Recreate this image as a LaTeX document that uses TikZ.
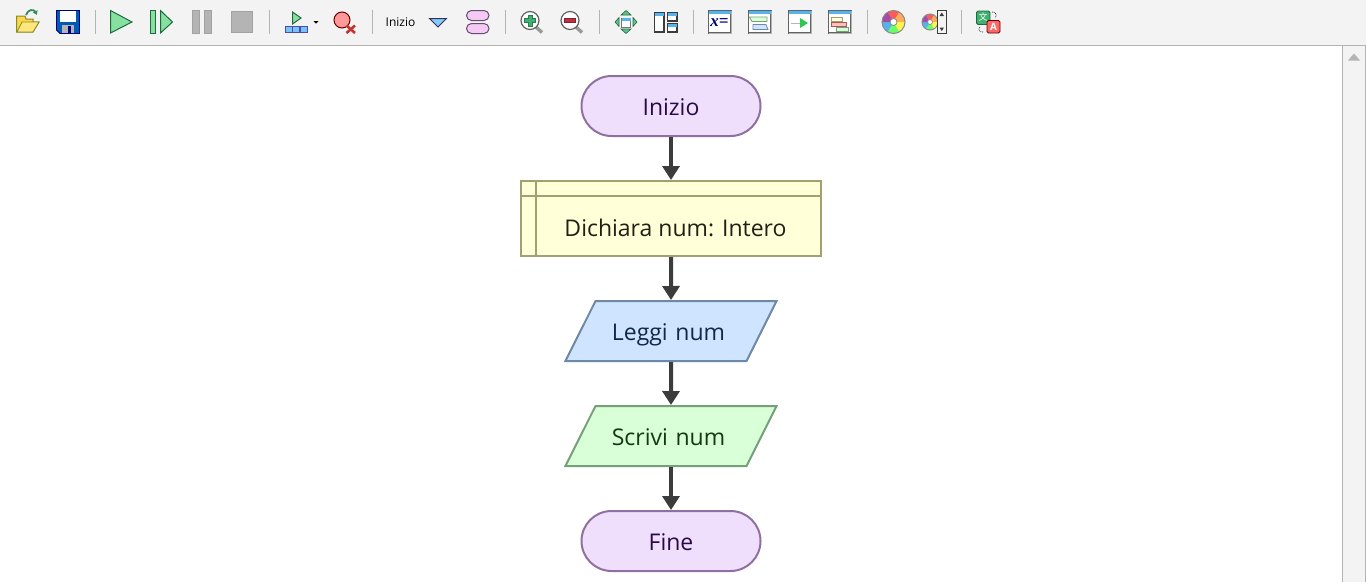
\documentclass[tikz,border=0pt]{standalone}
\usepackage{fontspec}
\setmainfont{Open Sans}
\newfontfamily\cjkicon{Noto Sans CJK SC}
\newfontfamily\mathicon{Liberation Serif}
\usetikzlibrary{arrows.meta,shapes.geometric,shapes.misc}
\definecolor{barbg}{HTML}{F3F3F3}
\definecolor{barline}{HTML}{B4B4B4}
\definecolor{skyblue}{HTML}{55B4F0}
\definecolor{playgreen}{HTML}{86E0A0}
\definecolor{playdark}{HTML}{1E6B3C}
\definecolor{icondark}{HTML}{3C3C3C}
\definecolor{zoomgreen}{HTML}{40B070}
\definecolor{zoomred}{HTML}{C03040}
\definecolor{termfill}{HTML}{EFDFFD}
\definecolor{termline}{HTML}{9070A0}
\definecolor{termtext}{HTML}{2A0A45}
\definecolor{declfill}{HTML}{FFFFD8}
\definecolor{declline}{HTML}{A0A070}
\definecolor{readfill}{HTML}{CFE5FF}
\definecolor{readline}{HTML}{7088A8}
\definecolor{readtext}{HTML}{10284A}
\definecolor{writefill}{HTML}{D8FFD8}
\definecolor{writeline}{HTML}{78A078}
\definecolor{writetext}{HTML}{103A10}
\tikzset{
  terminal/.style={shape=rounded rectangle,draw=termline,fill=termfill,line width=2pt,
    minimum width=179pt,minimum height=60pt,inner sep=0pt,text height=21pt,text depth=3pt,
    font=\fontsize{23}{23}\selectfont,text=termtext},
  iobox/.style={shape=trapezium,trapezium left angle=63.4,trapezium right angle=116.6,
    line width=2pt,text width=151pt,align=center,inner xsep=0pt,inner ysep=18pt,
    text height=21pt,text depth=3pt,font=\fontsize{23}{23}\selectfont},
  declbox/.style={draw=declline,fill=declfill,line width=2pt,minimum width=300pt,minimum height=75pt,inner sep=0pt},
  flowline/.style={draw=icondark,line width=4pt,-{Triangle[length=14pt,width=17pt]}},
  sepbar/.style={draw=barline,line width=1pt},
  grayicon/.style={fill=barline,draw=barline!90!black,line width=1pt},
  playicon/.style={fill=playgreen,draw=playdark,line width=1pt,line join=miter},
  winicon/.style={fill=white,draw=icondark,line width=1.2pt},
  lens/.style={fill=white,draw=icondark!80!white,line width=1.2pt},
  lenshandle/.style={draw=barline!85!black,line width=3.4pt}
}
\begin{document}
\begin{tikzpicture}[x=1pt,y=-1pt]
\useasboundingbox (0,0) rectangle (1366,582);
\fill[white] (0,0) rectangle (1366,582);
\fill[barbg] (0,0) rectangle (1366,45);
\draw[barline,line width=1.4pt] (0,45.5) -- (1366,45.5);
\fill[barbg] (1342.5,46) rectangle (1366,582);
\draw[barline,line width=1.4pt] (1342.5,46) -- (1342.5,582);
\draw[barline,line width=1pt] (1365.5,46) -- (1365.5,582);
\fill[barline] (1348,60.5) -- (1354,53.5) -- (1360,60.5) -- cycle;

\foreach \sx in {95.5,269.5,372.5,505.5,599.5,693.5,867.5,961.5}
  \draw[sepbar] (\sx,10) -- (\sx,33.5);

\draw[fill=yellow!60!orange!70!white,draw=icondark!60!yellow,line width=1pt] (16.5,32) -- (16.5,16) -- (25,16) -- (26,19) -- (33,19) -- (33,22) -- (39,22) -- (33,32) -- cycle;
\draw[fill=yellow!70!orange!50!white,draw=icondark!60!yellow,line width=.8pt] (17,32) -- (22,22) -- (39,22) -- (33,32) -- cycle;
\draw[zoomgreen!80!black,line width=1.8pt,-{Latex[length=4pt,width=6pt]}] (26,15) .. controls (28,9) and (34,9) .. (37,15);
\draw[fill=blue!50!cyan!70!black,draw=blue!50!black,line width=.8pt] (56.5,10.5) -- (79.5,10.5) -- (79.5,33.5) -- (60,33.5) -- (56.5,30) -- cycle;
\fill[white] (60,10.5) rectangle (76,21.5);
\fill[barline] (62,25) rectangle (74,33);
\fill[blue!50!black] (68,26) rectangle (71,32.5);

\draw[playicon] (110.5,10.5) -- (132,22) -- (110.5,33) -- cycle;
\draw[playicon] (150.5,10.5) rectangle (155.5,33);
\draw[playicon] (160.5,10.5) -- (172.5,22) -- (160.5,33) -- cycle;
\draw[grayicon] (192.5,10.5) rectangle (199.5,33);
\draw[grayicon] (204.5,10.5) rectangle (211.5,33);
\draw[grayicon] (231.5,11.5) rectangle (252.5,32.5);

\draw[playicon] (292.5,12) -- (301,18) -- (292.5,24) -- cycle;
\foreach \cx in {285.5,292.8,300}
  \draw[fill=skyblue!80!white,draw=blue!40!gray,line width=.8pt] (\cx,26) rectangle ++(7,6.5);
\fill[black] (313.5,21) -- (318.5,21) -- (316,23.5) -- cycle;

\draw[fill=red!40!white,draw=red!40!black,line width=1pt] (342,20) circle (8);
\draw[red!70!black!80!white,line width=2.6pt] (346.5,25.5) -- (355,33);
\draw[red!70!black!80!white,line width=2.6pt] (355,25.5) -- (346.5,33);

\node[font=\fontsize{12}{12}\selectfont,text=black,inner sep=0pt] (startlabel) at (400.5,22.5) {Inizio};
\draw[fill=skyblue!70!white,draw=icondark!80!blue,line width=1pt] (429.5,18.5) -- (446.5,18.5) -- (438,27) -- cycle;
\draw[fill=termline!40!magenta!25!white,draw=termline!70!black,line width=1pt,rounded corners=5pt] (466.5,10.5) rectangle (489,20.5);
\draw[fill=termline!40!magenta!25!white,draw=termline!70!black,line width=1pt,rounded corners=5pt] (466.5,23.5) rectangle (489,33.5);

\draw[lenshandle] (536,27) -- (542,32.5);
\draw[lens] (530,20.5) circle (9);
\draw[fill=zoomgreen,draw=zoomgreen!70!black,line width=.5pt] (528,15) -- (532,15) -- (532,18.5) -- (535.5,18.5) -- (535.5,22.5) -- (532,22.5) -- (532,26) -- (528,26) -- (528,22.5) -- (524.5,22.5) -- (524.5,18.5) -- (528,18.5) -- cycle;
\draw[lenshandle] (576,27) -- (582,32.5);
\draw[lens] (570,20.5) circle (9);
\draw[fill=zoomred,draw=zoomred!70!black,line width=.5pt] (564.5,18.5) rectangle (575.5,22.5);

\draw[fill=white,draw=icondark!70!white,line width=1pt] (621.5,18) rectangle (630.5,27);
\fill[skyblue] (621.5,18) rectangle (630.5,20.5);
\foreach \tipa/\tipb/\tipc in {{626,10.5}/{631,15}/{621,15},{626,33.5}/{631,29}/{621,29},{615,22}/{619,17.5}/{619,26.5},{637,22}/{633,17.5}/{633,26.5}}
  \draw[fill=zoomgreen!80!white,draw=playdark,line width=.6pt] (\tipa) -- (\tipb) -- (\tipc) -- cycle;

\draw[winicon] (654.5,12.5) rectangle (664,32);
\fill[skyblue] (654.5,12.5) rectangle (664,15.5);
\draw[winicon] (667.5,12.5) rectangle (677,21);
\fill[skyblue] (667.5,12.5) rectangle (677,15.5);
\draw[winicon] (667.5,23.5) rectangle (677,32);
\fill[skyblue] (667.5,23.5) rectangle (677,26.5);

\foreach \wx in {708.5,748.5,788.5,828.5}{
  \draw[winicon,draw=icondark!80!white] (\wx,10.5) rectangle ++(22.5,22.5);
  \fill[skyblue] (\wx,10.5) rectangle ++(22.5,3);
  \draw[barline,line width=1pt] (\wx,33.5) -- ++(23,0) -- ++(0,-23);
}
\node[font=\mathicon\bfseries\itshape\fontsize{17}{17}\selectfont,text=blue!45!black,inner sep=0pt] (assignlabel) at (719.5,23) {x=};
\draw[fill=writefill,draw=writeline,line width=.8pt] (752,17) -- (767,17) -- (767,21.5) -- (752,21.5) -- (749.5,17) -- cycle;
\draw[fill=readfill,draw=readline,line width=.8pt] (753,24.5) -- (766,24.5) -- (768,29.5) -- (753,29.5) -- cycle;
\draw[barline,line width=1pt] (791,23) -- (803,23);
\fill[zoomgreen!70!green] (800,18) -- (808,23) -- (800,28) -- cycle;
\draw[fill=declfill,draw=declline,line width=.8pt] (831.5,17) rectangle (842,21);
\draw[fill=red!25!white,draw=red!30!gray,line width=.8pt] (831.5,22.5) rectangle (846,26);
\draw[fill=writefill,draw=writeline,line width=.8pt] (836.5,27.5) rectangle (848,31);

\foreach \ang/\hue in {-120/red!65!white,-60/orange!65!white,0/yellow!70!white,60/green!60!white,120/skyblue,180/violet!70!white}{
  \fill[\hue] (893.5,22) -- ++(\ang:11.5) arc[start angle=\ang,delta angle=60,radius=11.5] -- cycle;
  \fill[\hue] (930,22) -- ++(\ang:8) arc[start angle=\ang,delta angle=60,radius=8] -- cycle;
}
\draw[icondark!60!white,line width=.8pt,fill=white] (893.5,22) circle (3.5);
\draw[icondark!60!white,line width=1pt] (893.5,22) circle (11.5);
\draw[icondark!60!white,line width=.8pt,fill=white] (930,22) circle (2.5);
\draw[icondark!60!white,line width=1pt] (930,22) circle (8);
\draw[fill=barbg,draw=icondark,line width=1pt] (937.5,10.5) rectangle (946,33);
\fill[icondark] (939.5,16) -- (941.8,12.5) -- (944,16) -- cycle;
\fill[icondark] (939.5,27.5) -- (941.8,31) -- (944,27.5) -- cycle;

\draw[fill=zoomgreen,draw=playdark,line width=.8pt,rounded corners=1.5pt] (976.5,11) rectangle (990,24.5);
\node[font=\cjkicon\fontsize{9}{9}\selectfont,text=white,inner sep=0pt] (transsource) at (983,17.5) {文};
\draw[fill=red!60!white,draw=red!40!black,line width=.8pt,rounded corners=1.5pt] (987,20.5) rectangle (1000,33);
\node[font=\bfseries\fontsize{10}{10}\selectfont,text=white,inner sep=0pt] (transtarget) at (993.5,27) {A};
\draw[icondark,line width=.8pt,densely dotted] (992,12) .. controls (997,12) and (997,16) .. (995,18);
\draw[icondark,line width=.8pt,densely dotted] (983,32) .. controls (978,32) and (978,29) .. (980,27);

\node[terminal] (start) at (671,106) {Inizio};
\node[declbox] (declare) at (671,218.5) {};
\draw[declline,line width=2pt] (521,196) -- (821,196);
\draw[declline,line width=2pt] (536,181) -- (536,256);
\node[text=black!80!declline,font=\fontsize{23}{23}\selectfont,inner sep=0pt] (declaretext) at (675.5,227.5) {Dichiara num: Intero};
\node[iobox,draw=readline,fill=readfill,text=readtext] (read) at (671,331) {Leggi num\hspace*{5pt}};
\node[iobox,draw=writeline,fill=writefill,text=writetext] (write) at (671,436) {Scrivi num\hspace*{5pt}};
\node[terminal] (stop) at (671,541) {Fine};

\draw[flowline] (start) -- (declare);
\draw[flowline] (declare) -- (read);
\draw[flowline] (read) -- (write);
\draw[flowline] (write) -- (stop);
\end{tikzpicture}
\end{document}
